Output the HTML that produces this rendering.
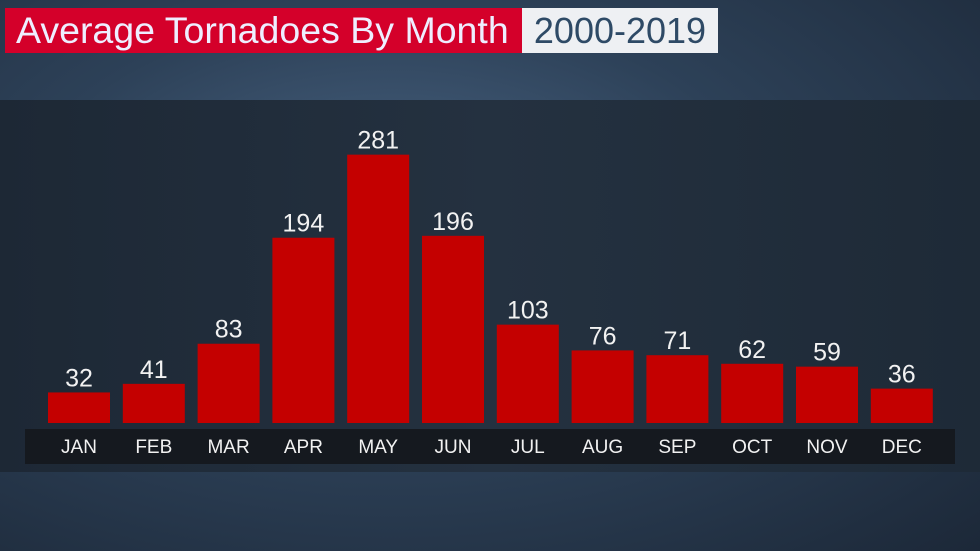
<!DOCTYPE html>
<html><head><meta charset="utf-8"><style>
body{margin:0;width:980px;height:551px;overflow:hidden;font-family:"Liberation Sans",sans-serif;}
#bg{position:absolute;left:0;top:0;width:980px;height:551px;background:radial-gradient(ellipse at 40% 40%,#4a6584 0%,#2d4158 45%,#1c2838 100%);}
#panel{position:absolute;left:0;top:100px;width:980px;height:372px;background:linear-gradient(90deg,#1d2835 0%,#243140 50%,#1e2a37 100%);}
#t1{position:absolute;left:5px;top:8px;width:517px;height:45px;background:#d4002a;color:#eef;font-size:37.5px;line-height:45px;padding-left:11px;box-sizing:border-box;white-space:nowrap;}
#t2{position:absolute;left:522px;top:8px;width:196px;height:45px;background:#eef0f3;color:#2e4a66;font-size:36px;line-height:45px;text-align:center;}
svg{position:absolute;left:0;top:0;}
</style></head><body>
<div id="bg"></div>
<div id="panel"></div>
<div id="t1">Average Tornadoes By Month</div>
<div id="t2">2000-2019</div>
<svg id="chart" width="980" height="551">
<rect x="25" y="429" width="930" height="35" fill="#15191f"/>
</svg>
<script>
const months=["JAN","FEB","MAR","APR","MAY","JUN","JUL","AUG","SEP","OCT","NOV","DEC"];
const values=[32,41,83,194,281,196,103,76,71,62,59,36];
const svg=document.getElementById('chart');
const NS='http://www.w3.org/2000/svg';
function xPos(i){return 48+i*74.8;}
function yPos(v){return 423-v*0.955;}
months.forEach((m,i)=>{
  const x=xPos(i),y=yPos(values[i]);
  const r=document.createElementNS(NS,'rect');
  r.setAttribute('x',x);r.setAttribute('y',y);r.setAttribute('width',62);r.setAttribute('height',423-y);r.setAttribute('fill','#c40000');
  
  
  svg.appendChild(r);
  const t=document.createElementNS(NS,'text');
  t.setAttribute('x',x+31);t.setAttribute('y',y-6);t.setAttribute('text-anchor','middle');t.setAttribute('fill','#f2f2f2');t.setAttribute('font-size','25');
  t.textContent=values[i];
  
  
  svg.appendChild(t);
  const l=document.createElementNS(NS,'text');
  l.setAttribute('x',x+31);l.setAttribute('y',453);l.setAttribute('text-anchor','middle');l.setAttribute('fill','#f2f2f2');l.setAttribute('font-size','19');
  l.textContent=m;
  
  
  svg.appendChild(l);
});
</script>
</body></html>
